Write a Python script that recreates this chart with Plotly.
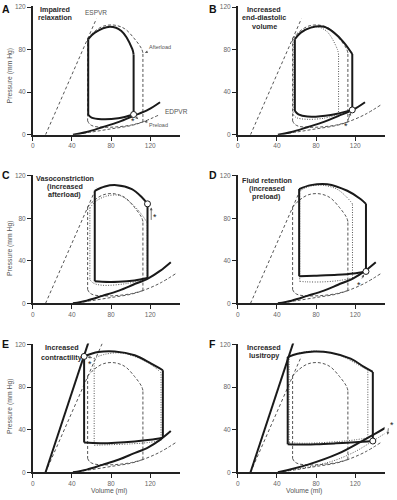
import plotly.graph_objects as go

W, H = 397, 500

# ---------------- data (volume in ml, pressure in mm Hg) ----------------
# normal (baseline) pressure-volume loop: ejection arc and filling curve
normal_arc_v = [112.5, 111, 104, 94, 83, 72, 63, 56]
normal_arc_p = [77, 81, 90, 99.5, 103, 102, 97, 90.5]
normal_bot_v = [56, 58, 62, 71, 85, 100, 112.5]
normal_bot_p = [13, 10, 8, 7, 7.3, 9, 12]

# A: impaired relaxation
a_arc_v = [103, 101.7, 90.5, 78.7, 63.4, 56.6]
a_arc_p = [75.2, 80.4, 97.5, 101.5, 95.9, 89.8]
a_bot_v = [56.6, 60, 70.2, 87.2, 103]
a_bot_p = [18.6, 16, 14.5, 15.4, 19]

# B: increased end-diastolic volume
b_arc_v = [117, 108.5, 98.3, 88.2, 74.6, 64.4, 58.3]
b_arc_p = [75.8, 86.6, 95.9, 101.5, 100.6, 95.9, 89.8]
b_bot_v = [58.3, 62, 71.2, 95, 117]
b_bot_p = [22.3, 19, 17, 18.5, 23.3]

# C: vasoconstriction (increased afterload)
c_arc_v = [117.2, 111.4, 101.2, 85.5, 73.6, 63.3]
c_arc_p = [93.5, 99.7, 107.4, 111.1, 109.9, 105.8]
c_bot_v = [63.3, 70.7, 87.7, 104, 117.2]
c_bot_p = [20.7, 20.2, 20.2, 21.5, 23.8]

# D: fluid retention (increased preload)
d_arc_v = [131, 125.4, 111.9, 91.5, 74.6, 62.7]
d_arc_p = [93.5, 98.1, 105.8, 112, 111.1, 107.4]
d_bot_v = [62.7, 78, 101.7, 118, 131]
d_bot_p = [25.4, 25.9, 26.8, 28, 30]

# E: increased contractility
e_arc_v = [132.9, 121, 104.1, 83.7, 66.8, 52.4]
e_arc_p = [95.9, 102.1, 110, 113.6, 113, 108.9]
e_bot_v = [52.4, 70.2, 104.1, 120, 132.9]
e_bot_p = [27.9, 27.3, 29, 30.5, 32.5]

# F: increased lusitropy
f_arc_v = [138, 129, 115.3, 95, 78, 61, 51]
f_arc_p = [94.3, 99, 106.8, 112.4, 113.6, 111.4, 108.3]
f_bot_v = [51, 60, 80, 100, 120, 138]
f_bot_p = [26.3, 26.1, 26.4, 27.2, 28.2, 29.4]

# end-diastolic pressure-volume relations
edpvr_normal_v = [41, 60, 80, 100, 112.5, 130, 147]
edpvr_normal_p = [0, 2.5, 5.5, 8.5, 12, 19, 28.5]
edpvr_stiff_v = [41, 55, 71, 88, 102.5, 118, 130, 141]
edpvr_stiff_p = [0, 2.5, 7, 12, 17.5, 23.5, 30.5, 38.7]
edpvr_f_solid_v = [41, 71, 102.5, 127, 141, 153]
edpvr_f_solid_p = [0, 7, 17.5, 29.4, 36.5, 43]
edpvr_lusi_v = [41, 60, 80, 100, 120, 138, 153]
edpvr_lusi_p = [0, 3, 6.5, 11.5, 19.5, 29.4, 38]

# end-systolic pressure-volume relations
espvr_normal_v = [13, 65, 71.5]
espvr_normal_p = [0, 109, 122.3]
espvr_steep_v = [13, 57.5]
espvr_steep_p = [0, 124]

tick_vals = [0, 40, 80, 120]
panel_letters = ['A', 'B', 'C', 'D', 'E', 'F']
panel_titles = [
    ['Impaired', 'relaxation'],
    ['Increased', 'end-diastolic', 'volume'],
    ['Vasoconstriction', '(increased', 'afterload)'],
    ['Fluid retention', '(increased', 'preload)'],
    ['Increased', 'contractility'],
    ['Increased', 'lusitropy'],
]

# ---------------- styles ----------------
SOLID = dict(color='#1a1a1a', width=2)
DASH = dict(color='#555555', width=1, dash='3px,2px')
DOT = dict(color='#555555', width=1, dash='1px,1.5px')
THIN = dict(color='#555555', width=1, dash='3px,2.5px')

fig = go.Figure()


def axn(i):
    return ('x' if i == 1 else f'x{i}'), ('y' if i == 1 else f'y{i}')


def line(i, v, p, style, shape='spline'):
    xa, ya = axn(i)
    fig.add_trace(go.Scatter(x=v, y=p, mode='lines', line=dict(shape=shape, **style),
                             xaxis=xa, yaxis=ya, hoverinfo='skip', showlegend=False))


def loop(i, arc_v, arc_p, bot_v, bot_p, style):
    line(i, arc_v, arc_p, style)
    line(i, bot_v, bot_p, style)
    line(i, [arc_v[-1], bot_v[0], None, bot_v[-1], arc_v[0]],
         [arc_p[-1], bot_p[0], None, bot_p[-1], arc_p[0]], style, 'linear')


def circle(i, v, p):
    xa, ya = axn(i)
    fig.add_trace(go.Scatter(x=[v], y=[p], mode='markers', cliponaxis=False,
                             marker=dict(size=6, color='white', line=dict(color='#1a1a1a', width=1)),
                             xaxis=xa, yaxis=ya, hoverinfo='skip', showlegend=False))


# Panel A
line(1, espvr_normal_v[:2], espvr_normal_p[:2], THIN, 'linear')
line(1, edpvr_normal_v[:6], edpvr_normal_p[:6], DASH)
loop(1, normal_arc_v, normal_arc_p, normal_bot_v, normal_bot_p, DASH)
line(1, edpvr_stiff_v[:7], edpvr_stiff_p[:7], SOLID)
loop(1, a_arc_v, a_arc_p, a_bot_v, a_bot_p, SOLID)
circle(1, a_bot_v[-1], a_bot_p[-1])

# Panel B
line(2, espvr_normal_v[:2], espvr_normal_p[:2], THIN, 'linear')
line(2, edpvr_normal_v, edpvr_normal_p, DASH)
loop(2, normal_arc_v, normal_arc_p, normal_bot_v, normal_bot_p, DASH)
loop(2, a_arc_v, a_arc_p, a_bot_v, a_bot_p, DOT)
line(2, edpvr_stiff_v[:7], edpvr_stiff_p[:7], SOLID)
loop(2, b_arc_v, b_arc_p, b_bot_v, b_bot_p, SOLID)
circle(2, b_bot_v[-1], b_bot_p[-1])

# Panel C
line(3, espvr_normal_v[:2], espvr_normal_p[:2], THIN, 'linear')
line(3, edpvr_normal_v, edpvr_normal_p, DASH)
loop(3, normal_arc_v, normal_arc_p, normal_bot_v, normal_bot_p, DASH)
loop(3, b_arc_v, b_arc_p, b_bot_v, b_bot_p, DOT)
line(3, edpvr_stiff_v, edpvr_stiff_p, SOLID)
loop(3, c_arc_v, c_arc_p, c_bot_v, c_bot_p, SOLID)
circle(3, c_arc_v[0], c_arc_p[0])

# Panel D
line(4, espvr_normal_v[:2], espvr_normal_p[:2], THIN, 'linear')
line(4, edpvr_normal_v, edpvr_normal_p, DASH)
loop(4, normal_arc_v, normal_arc_p, normal_bot_v, normal_bot_p, DASH)
loop(4, c_arc_v, c_arc_p, c_bot_v, c_bot_p, DOT)
line(4, edpvr_stiff_v, edpvr_stiff_p, SOLID)
loop(4, d_arc_v, d_arc_p, d_bot_v, d_bot_p, SOLID)
circle(4, d_bot_v[-1], d_bot_p[-1])

# Panel E
line(5, espvr_normal_v, espvr_normal_p, THIN, 'linear')
line(5, edpvr_normal_v, edpvr_normal_p, DASH)
loop(5, normal_arc_v, normal_arc_p, normal_bot_v, normal_bot_p, DASH)
loop(5, d_arc_v, d_arc_p, d_bot_v, d_bot_p, DOT)
line(5, edpvr_stiff_v, edpvr_stiff_p, SOLID)
line(5, espvr_steep_v, espvr_steep_p, SOLID, 'linear')
loop(5, e_arc_v, e_arc_p, e_bot_v, e_bot_p, SOLID)
circle(5, e_arc_v[-1], e_arc_p[-1])

# Panel F
line(6, espvr_normal_v[:2], espvr_normal_p[:2], THIN, 'linear')
line(6, edpvr_normal_v, edpvr_normal_p, DASH)
line(6, edpvr_lusi_v, edpvr_lusi_p, DOT)
loop(6, normal_arc_v, normal_arc_p, normal_bot_v, normal_bot_p, DASH)
loop(6, e_arc_v, e_arc_p, e_bot_v, e_bot_p, DOT)
line(6, edpvr_f_solid_v, edpvr_f_solid_p, SOLID)
line(6, espvr_steep_v, espvr_steep_p, SOLID, 'linear')
loop(6, f_arc_v, f_arc_p, f_bot_v, f_bot_p, SOLID)
circle(6, f_bot_v[-1], f_bot_p[-1])

# ---------------- axes ----------------
XL = [31 / W, 178.5 / W]
XR = [237 / W, 384.5 / W]
row_y0 = [133.3, 304, 475]
YH = 121 * 1.077
rows = [[(H - y0) / H, (H - y0 + YH) / H] for y0 in row_y0]

FONT = 'Liberation Sans, Arial, sans-serif'
common = dict(showgrid=False, zeroline=False, showline=True, linecolor='#222222', linewidth=1.6,
              ticks='outside', ticklen=4, tickwidth=1, tickcolor='#222222', tickvals=tick_vals,
              tickfont=dict(size=6.5, color='#666666', family=FONT), fixedrange=True)
layout_axes = {}
for i in range(1, 7):
    r = (i - 1) // 2
    c = (i - 1) % 2
    xk = 'xaxis' if i == 1 else f'xaxis{i}'
    yk = 'yaxis' if i == 1 else f'yaxis{i}'
    layout_axes[xk] = dict(common, domain=XL if c == 0 else XR, range=[0, 150],
                           anchor='y' if i == 1 else f'y{i}')
    layout_axes[yk] = dict(common, domain=rows[r], range=[0, 121],
                           anchor='x' if i == 1 else f'x{i}')

# ---------------- annotations ----------------
ann = []


def paper_text(x, y, text, size, color='#222222', bold=False, angle=0):
    ann.append(dict(x=x / W, y=1 - y / H, xref='paper', yref='paper', text=f'<b>{text}</b>' if bold else text,
                    showarrow=False, font=dict(size=size, color=color, family=FONT),
                    xanchor='center', yanchor='middle', textangle=angle))


letter_pos = [(4, 6), (212, 6), (4, 174.3), (212, 174.3), (4, 345), (212, 345)]
for L, (x, y) in zip(panel_letters, letter_pos):
    paper_text(x, y, L, 10.5, '#111111', bold=True)

title_pos = [(53, 6.7, 8.3), (263.7, 6.7, 8.3), (63.3, 177.7, 8.3),
             (266.3, 179.3, 8.5), (60, 348.3, 10), (263.7, 348.3, 8.5)]
for lines, (x, y, dy) in zip(panel_titles, title_pos):
    for k, t in enumerate(lines):
        paper_text(x, y + k * dy, t, 7.2, '#2a2a2a', bold=True)

for yc in [73.3, 248, 408]:
    paper_text(8, yc, 'Pressure (mm Hg)', 6.8, '#555555', angle=-90)
for xc in [107.3, 304]:
    paper_text(xc, 493.5, 'Volume (ml)', 6.8, '#555555')


def data_text(i, v, p, text, size, color='#555555', xanchor='center'):
    xa, ya = axn(i)
    ann.append(dict(x=v, y=p, xref=xa, yref=ya, text=text, showarrow=False,
                    font=dict(size=size, color=color, family=FONT), xanchor=xanchor, yanchor='middle'))


def arrow(i, v, p, tv, tp, text='', size=5.5):
    xa, ya = axn(i)
    ann.append(dict(x=v, y=p, xref=xa, yref=ya, ax=tv, ay=tp, axref=xa, ayref=ya, text=text,
                    showarrow=True, arrowhead=2, arrowsize=0.7, arrowwidth=0.8, arrowcolor='#555555',
                    font=dict(size=size, color='#555555', family=FONT), standoff=1))


# panel A labels
data_text(1, 64.4, 114.5, 'ESPVR', 6.5)
data_text(1, 133.5, 21.6, 'EDPVR', 6.5, xanchor='left')
arrow(1, 113.6, 76.7, 129.5, 82, 'Afterload')
arrow(1, 112.6, 13, 128.7, 9.3, 'Preload')
arrow(1, 108.5, 14, 104.5, 17.2)
data_text(1, 102, 12.5, '*', 9, '#222222')

# stars and shift arrows
arrow(2, 116, 21.5, 112, 12.5)
data_text(2, 110.6, 8.5, '*', 9, '#222222')
arrow(3, 121, 91, 121, 77)
data_text(3, 124.9, 81.5, '*', 9, '#222222')
arrow(4, 129.5, 28, 126, 22)
data_text(4, 123.8, 17.5, '*', 9, '#222222')
arrow(5, 55, 108.5, 62, 107.5)
data_text(5, 58.3, 102, '*', 9, '#222222')

# panel F: star sits beyond the x-axis end, so place it on the page
ann.append(dict(x=387.5 / W, y=1 - 437 / H, xref='paper', yref='paper', ax=1, ay=-8,
                axref='pixel', ayref='pixel', text='', showarrow=True, arrowhead=2, arrowsize=0.7,
                arrowwidth=0.8, arrowcolor='#555555', standoff=0))
paper_text(391.5, 427.5, '*', 9, '#222222')

fig.update_layout(width=W, height=H, margin=dict(l=0, r=0, t=0, b=0),
                  paper_bgcolor='white', plot_bgcolor='white', showlegend=False,
                  annotations=ann, **layout_axes)

fig.write_html('out.html', config={'displayModeBar': False},
               post_script="document.body.style.margin='0';")
